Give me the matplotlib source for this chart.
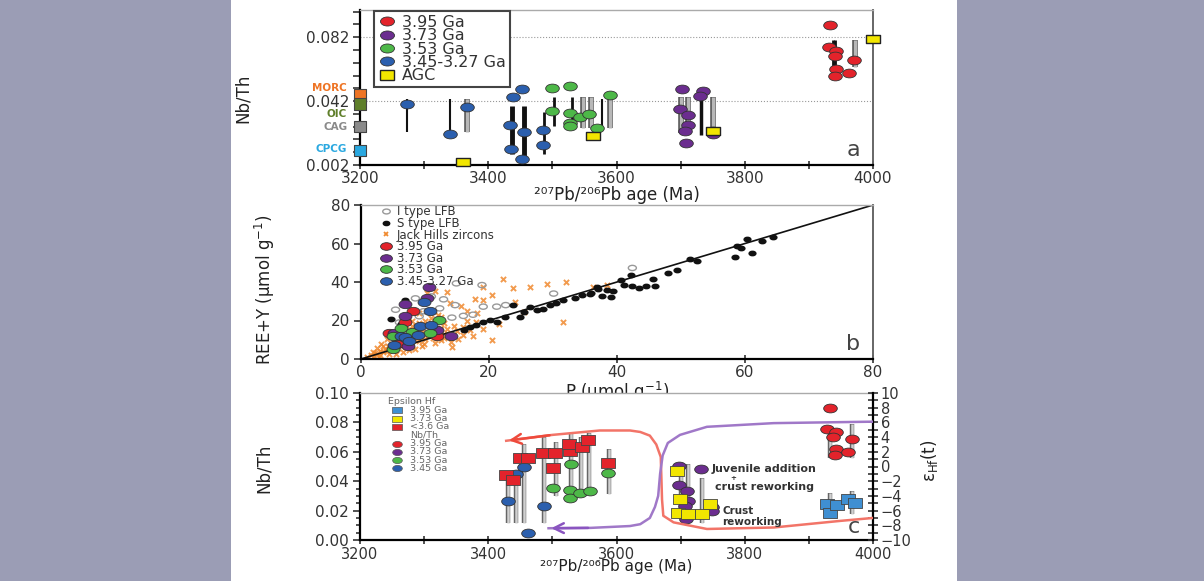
import matplotlib
matplotlib.use('Agg')
import matplotlib.pyplot as plt
from matplotlib.markers import MarkerStyle
from matplotlib.transforms import Affine2D
from matplotlib.lines import Line2D
from matplotlib.patches import Rectangle
import numpy as np

plt.rcParams['font.family'] = ['DejaVu Sans']
plt.rcParams['mathtext.default'] = 'regular'

RED = '#e3232b'
PURPLE = '#6b2d8f'
GREEN = '#4db848'
BLUE = '#2b5fae'
YELLOW = '#f2e600'
EPS_BLUE = '#3f8fd2'
ORANGE = '#f08a30'
AGE_LABEL = '\u00b2\u2070\u2077Pb/\u00b2\u2070\u2076Pb age (Ma)'

# ---------------- panel a : Nb/Th vs age ----------------
a_red_age = [3933, 3932, 3942, 3941, 3942, 3940, 3970, 3963]
a_red_nbth = [0.0895, 0.0760, 0.0733, 0.0703, 0.0620, 0.0576, 0.0680, 0.0598]
a_purple_age = [3702, 3699, 3712, 3712, 3707, 3708, 3735, 3730, 3751, 3751]
a_purple_nbth = [0.0493, 0.0372, 0.0333, 0.0270, 0.0234, 0.0155, 0.0482, 0.0451, 0.0233, 0.0215]
a_green_age = [3500, 3528, 3500, 3527, 3528, 3527, 3543, 3557, 3569, 3590]
a_green_nbth = [0.0503, 0.0516, 0.0357, 0.0347, 0.0284, 0.0264, 0.0322, 0.0339, 0.0253, 0.0458]
a_blue_age = [3273, 3340, 3367, 3438, 3453, 3434, 3436, 3455, 3453, 3485, 3485]
a_blue_nbth = [0.0401, 0.0214, 0.0384, 0.0447, 0.0495, 0.0270, 0.0118, 0.0224, 0.0055, 0.0239, 0.0145]
a_agc_age = [3361, 3564, 3751, 4000]
a_agc_nbth = [0.0039, 0.0203, 0.0233, 0.0810]

a_bar_k_age = [3273, 3340, 3437, 3455, 3487, 3502, 3530, 3577, 3732, 3937, 3941]
a_bar_k_lo = [0.0228, 0.0208, 0.0091, 0.0041, 0.0087, 0.0267, 0.0267, 0.0253, 0.0208, 0.0572, 0.0572]
a_bar_k_hi = [0.0433, 0.0433, 0.0392, 0.0392, 0.0350, 0.0444, 0.0444, 0.0433, 0.0468, 0.0801, 0.0801]
a_bar_k_lw = [1.5, 1.5, 3.5, 3.5, 2.0, 2.0, 2.0, 1.5, 2.5, 2.0, 2.0]
a_bar_g_age = [3367, 3548, 3560, 3590, 3700, 3712, 3750, 3972]
a_bar_g_lo = [0.0228, 0.0253, 0.0253, 0.0253, 0.0218, 0.0218, 0.0218, 0.0635]
a_bar_g_hi = [0.0433, 0.0444, 0.0444, 0.0433, 0.0447, 0.0447, 0.0447, 0.0801]

ref_names = ['MORC', 'OIC', 'CAG', 'CPCG']
ref_nbth = [0.0458, 0.0400, 0.0260, 0.0110]
ref_label_y = [0.0500, 0.0340, 0.0260, 0.0120]
ref_colors = ['#ee7424', '#5f7f2a', '#8a8a8a', '#2aa8e0']

# ---------------- panel b : REE+Y vs P ----------------
s_type_lfb = [(60.3, 62.2), (62.6, 61.5), (64.4, 63.6), (61.1, 55.2), (58.5, 53.1), (59.3, 57.8),
              (58.8, 58.7), (52.5, 50.8), (51.4, 51.7), (49.3, 46.0), (48.0, 44.8), (45.6, 41.3),
              (45.9, 37.8), (44.6, 38.1), (43.5, 36.9), (42.4, 38.1), (42.2, 43.8), (41.1, 38.6),
              (39.3, 35.2), (39.0, 32.1), (37.7, 32.7), (40.7, 41.0), (38.4, 35.8), (36.8, 37.5),
              (35.8, 33.9), (31.6, 30.4), (29.6, 27.8), (28.5, 26.1), (26.4, 26.9), (24.9, 21.8),
              (23.8, 27.8), (21.2, 19.2), (20.2, 20.1), (19.1, 19.2), (17.1, 16.6), (16.1, 14.9),
              (6.8, 30.4), (4.7, 20.8), (6.3, 18.3), (33.5, 31.5), (34.5, 33.0), (30.5, 29.0),
              (27.5, 25.5), (25.5, 24.5), (22.5, 22.0), (18.0, 17.5), (36.0, 34.5), (37.0, 36.5)]
i_type_lfb = [(14.9, 39.3), (18.9, 38.4), (21.2, 27.2), (19.1, 27.2), (16.0, 22.4), (12.9, 31.0),
              (12.3, 26.3), (14.7, 28.0), (9.8, 24.8), (9.1, 22.2), (7.0, 28.2), (5.4, 25.6),
              (30.1, 34.0), (42.4, 47.3), (8.5, 31.5), (11.0, 32.5), (14.2, 21.5), (6.0, 19.0),
              (22.6, 28.0), (17.5, 23.0)]
jack_hills = [(1.0, 1.2), (1.5, 2.0), (2.0, 1.5), (2.2, 3.0), (2.5, 2.5), (3.0, 4.0), (3.0, 2.2),
              (3.5, 3.5), (3.8, 5.0), (4.0, 4.0), (4.2, 6.5), (4.5, 5.0), (4.8, 7.5), (5.0, 4.5),
              (5.2, 6.0), (5.5, 9.0), (5.8, 5.5), (6.0, 8.0), (6.2, 6.5), (6.5, 10.0), (6.8, 7.0),
              (7.0, 9.5), (7.2, 11.5), (7.5, 8.5), (7.8, 12.5), (8.0, 7.5), (8.3, 10.5), (8.6, 13.5),
              (9.0, 9.5), (9.3, 11.0), (9.6, 14.0), (10.0, 10.5), (10.4, 12.5), (10.8, 15.0),
              (11.2, 11.0), (11.6, 13.5), (12.0, 12.0), (12.5, 16.0), (13.0, 13.0), (13.5, 15.5),
              (14.0, 12.5), (14.5, 17.0), (15.0, 14.5), (16.0, 16.5), (17.0, 15.0), (18.0, 19.0),
              (3.2, 8.0), (4.0, 10.5), (5.0, 12.0), (6.0, 14.0), (7.0, 15.5), (8.0, 17.0),
              (9.0, 18.5), (10.0, 20.0), (11.0, 21.5), (12.0, 23.0), (13.0, 18.5), (14.0, 9.0),
              (5.5, 2.8), (6.5, 3.5), (7.5, 4.5), (8.5, 5.0), (9.5, 6.5), (22.2, 41.4), (19.1, 37.2),
              (17.8, 31.0), (19.1, 30.7), (13.4, 35.0), (11.6, 35.3), (10.3, 34.1), (13.9, 28.9),
              (15.6, 27.3), (18.1, 23.7), (23.8, 36.7), (26.4, 37.5), (29.0, 38.8), (32.1, 40.0),
              (36.3, 37.5), (38.4, 38.3), (31.6, 19.4), (25.4, 24.6), (20.4, 9.9), (14.2, 6.4),
              (15.9, 12.7), (16.5, 25.0), (12.5, 22.0), (20.5, 33.0), (24.0, 29.5), (8.0, 19.5),
              (9.0, 24.0), (2.5, 5.5), (3.5, 6.5), (11.5, 8.5), (12.5, 10.0), (16.5, 20.0),
              (1.8, 3.8), (2.8, 1.2), (4.4, 2.5), (6.0, 11.0), (7.6, 6.0), (9.8, 8.0), (11.0, 17.0),
              (13.0, 10.8), (15.2, 10.5), (17.5, 12.0), (19.0, 15.5), (21.5, 18.0)]
b_red = [(8.1, 25.1), (6.8, 19.3), (11.9, 12.2), (4.4, 13.4), (5.7, 8.0)]
b_purple = [(10.7, 37.2), (10.3, 31.6), (6.8, 28.5), (6.8, 22.4), (11.9, 15.1), (14.0, 12.2),
            (7.3, 7.0), (5.1, 13.4)]
b_green = [(6.3, 16.1), (12.2, 20.4), (10.8, 13.4), (5.0, 11.9), (5.0, 5.1), (7.9, 13.9)]
b_blue = [(9.8, 29.5), (10.8, 25.1), (9.2, 17.0), (6.2, 11.9), (5.1, 7.2), (6.8, 11.2),
          (11.0, 17.8), (8.9, 12.6), (7.5, 9.5)]

# ---------------- panel c : Nb/Th and epsilon Hf vs age ----------------
c_eps_blue_age = [3928, 3933, 3944, 3961, 3972]
c_eps_blue = [-5.1, -6.3, -5.2, -4.4, -4.9]
c_eps_yellow_age = [3695, 3699, 3696, 3712, 3733, 3746]
c_eps_yellow = [-0.6, -4.4, -6.3, -6.4, -6.4, -5.1]
c_eps_red_age = [3428, 3439, 3449, 3462, 3486, 3504, 3501, 3528, 3526, 3546, 3556, 3587]
c_eps_red = [-1.15, -1.9, 1.1, 1.1, 1.8, 1.8, -0.16, 2.1, 3.0, 2.7, 3.6, 0.44]

c_red_age = [3933, 3929, 3943, 3937, 3942, 3940, 3967, 3961]
c_red_nbth = [0.0899, 0.0756, 0.0734, 0.0702, 0.0621, 0.0578, 0.0685, 0.0598]
c_purple_age = [3697, 3697, 3710, 3712, 3707, 3708, 3749, 3749]
c_purple_nbth = [0.0504, 0.0373, 0.0334, 0.0266, 0.0228, 0.0146, 0.0226, 0.0199]
c_green_age = [3501, 3529, 3528, 3528, 3543, 3559, 3587]
c_green_nbth = [0.0357, 0.0515, 0.0338, 0.0289, 0.0323, 0.0334, 0.0454]
c_blue_age = [3443, 3431, 3455, 3487, 3462]
c_blue_nbth = [0.0450, 0.0266, 0.0499, 0.0232, 0.0051]

c_bar_age = [3431, 3443, 3455, 3487, 3505, 3529, 3545, 3557, 3588, 3700, 3712, 3733, 3750,
             3933, 3967, 3933, 3967]
c_bar_lo = [0.0119, 0.0119, 0.0119, 0.0119, 0.0300, 0.0280, 0.0300, 0.0320, 0.0310, 0.0142,
            0.0142, 0.0119, 0.0170, 0.0560, 0.0560, 0.0165, 0.0180]
c_bar_hi = [0.0447, 0.0460, 0.0653, 0.0698, 0.0664, 0.0725, 0.0700, 0.0725, 0.0620, 0.0515,
            0.0515, 0.0425, 0.0250, 0.0775, 0.0790, 0.0320, 0.0330]

red_curve_age = [3428, 3500, 3574, 3621, 3637, 3652, 3662, 3669, 3670, 3671, 3673, 3689,
                 3741, 3845, 3949, 4000]
red_curve_eps = [3.5, 4.3, 4.9, 4.9, 4.7, 4.2, 3.0, 1.3, -1.5, -4.5, -6.7, -7.6, -8.5, -8.3,
                 -7.4, -7.0]
purple_curve_age = [3494, 3560, 3621, 3637, 3652, 3660, 3665, 3668, 3672, 3680, 3699, 3741,
                    3845, 4000]
purple_curve_eps = [-8.4, -8.35, -8.1, -7.85, -7.0, -5.5, -4.0, -1.0, 1.5, 3.2, 4.3, 5.4, 5.9, 6.1]


def emark(m):
    # markers in the source look horizontally stretched
    return MarkerStyle(m, transform=Affine2D().scale(1.55, 1.0))


def style_axes(ax):
    ax.spines['left'].set_linewidth(1.6)
    ax.spines['bottom'].set_linewidth(1.6)
    ax.spines['right'].set_color('#666666')
    ax.spines['right'].set_linewidth(1.4)
    ax.spines['top'].set_color('#aaaaaa')
    ax.spines['top'].set_linewidth(1.0)
    ax.tick_params(axis='x', which='both', direction='inout', length=6, width=1.2,
                   labelsize=11, pad=1, colors='#333333')
    ax.tick_params(axis='y', which='both', direction='out', length=5, width=1.2,
                   labelsize=11, pad=3, colors='#333333')


W, H = 1204, 581
fig = plt.figure(figsize=(W / 100, H / 100), dpi=100, facecolor='#9b9db5')
fig.patches.append(Rectangle((231 / W, 0), (957 - 231) / W, 1, transform=fig.transFigure,
                             facecolor='white', edgecolor='none', zorder=-10))


def px_axes(l, t, r, b):
    return fig.add_axes([l / W, 1 - b / H, (r - l) / W, (b - t) / H])


ms_a = 40
# ---------- a ----------
ax = px_axes(360, 10, 873, 165)
style_axes(ax)
ax.set_xlim(3200, 4000)
ax.set_ylim(0.002, 0.099)
ax.set_xticks([3200, 3400, 3600, 3800, 4000])
ax.set_xticks([3300, 3500, 3700, 3900], minor=True)
ax.set_yticks([0.002, 0.042, 0.082])
ax.set_yticklabels(['0.002', '0.042', '0.082'])
ax.set_yticks(np.arange(0.010, 0.099, 0.008), minor=True)
ax.axhline(0.042, color='#999999', lw=0.8, ls=':', zorder=1)
ax.axhline(0.082, color='#999999', lw=0.8, ls=':', zorder=1)
for x, lo, hi in zip(a_bar_g_age, a_bar_g_lo, a_bar_g_hi):
    ax.vlines(x, lo, hi, color='#555555', lw=4, zorder=2)
    ax.vlines(x, lo, hi, color='#b8b8b8', lw=2.4, zorder=2)
for x, lo, hi, w in zip(a_bar_k_age, a_bar_k_lo, a_bar_k_hi, a_bar_k_lw):
    ax.vlines(x, lo, hi, color='#111111', lw=w, zorder=2)
ax.scatter(a_blue_age, a_blue_nbth, s=ms_a, marker=emark('o'), c=BLUE, edgecolors='#333333', linewidths=0.6, zorder=4)
ax.scatter(a_green_age, a_green_nbth, s=ms_a, marker=emark('o'), c=GREEN, edgecolors='#333333', linewidths=0.6, zorder=4)
ax.scatter(a_purple_age, a_purple_nbth, s=ms_a, marker=emark('o'), c=PURPLE, edgecolors='#333333', linewidths=0.6, zorder=4)
ax.scatter(a_red_age, a_red_nbth, s=ms_a, marker=emark('o'), c=RED, edgecolors='#333333', linewidths=0.6, zorder=4)
ax.scatter(a_agc_age, a_agc_nbth, s=40, marker=emark('s'), c=YELLOW, edgecolors='#222222', linewidths=1.0,
           zorder=5, clip_on=False)
ax.scatter([3200] * 4, ref_nbth, s=70, marker='s', c=ref_colors, edgecolors='#444444', linewidths=0.8,
           zorder=6, clip_on=False)
for name, y, col in zip(ref_names, ref_label_y, ref_colors):
    ax.text(3180, y, name, color=col, fontsize=7.5, fontweight='bold', ha='right', va='center')
ax.set_ylabel('Nb/Th', fontsize=12, color='#222222')
ax.yaxis.set_label_coords(-0.21, 0.43)
ax.set_xlabel(AGE_LABEL, fontsize=12, labelpad=0, color='#222222')
ax.text(0.975, 0.03, 'a', transform=ax.transAxes, fontsize=16, ha='right', va='bottom', color='#444444')
h_a = [Line2D([], [], ls='', marker=emark('o'), ms=6.5, mfc=c, mec='#333333', mew=0.6)
       for c in (RED, PURPLE, GREEN, BLUE)]
h_a.append(Line2D([], [], ls='', marker=emark('s'), ms=6.5, mfc=YELLOW, mec='#222222', mew=1.0))
leg = ax.legend(h_a, ['3.95 Ga', '3.73 Ga', '3.53 Ga', '3.45-3.27 Ga', 'AGC'], loc='upper left',
                bbox_to_anchor=(0.027, 0.995), fontsize=11.5, labelspacing=-0.1, handlelength=1.2,
                handletextpad=0.3, borderpad=0.25, fancybox=False, framealpha=1, borderaxespad=0)
leg.get_frame().set_edgecolor('#444444')
leg.get_frame().set_linewidth(1.5)
for t in leg.get_texts():
    t.set_color('#333333')

# ---------- b ----------
bx = px_axes(361, 205, 873, 359)
style_axes(bx)
bx.set_xlim(0, 80)
bx.set_ylim(0, 80)
bx.set_xticks([0, 20, 40, 60, 80])
bx.set_yticks([0, 20, 40, 60, 80])
bx.plot([0, 80], [0, 80], color='#111111', lw=1.2, zorder=2)
jp, jr = zip(*jack_hills)
bx.scatter(jp, jr, s=14, marker='x', c=ORANGE, linewidths=1.4, alpha=0.85, zorder=1)
ip, ir = zip(*i_type_lfb)
bx.scatter(ip, ir, s=14, marker=emark('o'), facecolors='none', edgecolors='#999999', linewidths=1.0, zorder=3)
sp, sr = zip(*s_type_lfb)
bx.scatter(sp, sr, s=10, marker=emark('o'), c='#111111', zorder=3)
for pts, col in ((b_red, RED), (b_purple, PURPLE), (b_green, GREEN), (b_blue, BLUE)):
    px_, py_ = zip(*pts)
    bx.scatter(px_, py_, s=36, marker=emark('o'), c=col, edgecolors='#333333', linewidths=0.6, zorder=4)
bx.set_ylabel('REE+Y (\u03bcmol g$^{-1}$)', fontsize=12, color='#222222')
bx.yaxis.set_label_coords(-0.165, 0.45)
bx.set_xlabel('P (\u03bcmol g$^{-1}$)', fontsize=12, labelpad=0, color='#222222')
bx.text(0.975, 0.03, 'b', transform=bx.transAxes, fontsize=16, ha='right', va='bottom', color='#444444')
h_b = [Line2D([], [], ls='', marker=emark('o'), ms=3.5, mfc='none', mec='#999999', mew=1.0),
       Line2D([], [], ls='', marker=emark('o'), ms=3, mfc='#111111', mec='#111111'),
       Line2D([], [], ls='', marker='x', ms=3.5, mec=ORANGE, mew=1.3)]
h_b += [Line2D([], [], ls='', marker=emark('o'), ms=5.5, mfc=c, mec='#333333', mew=0.6)
        for c in (RED, PURPLE, GREEN, BLUE)]
leg_b = bx.legend(h_b, ['I type LFB', 'S type LFB', 'Jack Hills zircons', '3.95 Ga', '3.73 Ga',
                        '3.53 Ga', '3.45-3.27 Ga'], loc='upper left', bbox_to_anchor=(0.035, 1.005),
                  fontsize=8.5, labelspacing=-0.12, handlelength=1.0, handletextpad=0.4,
                  borderpad=0.1, frameon=False, borderaxespad=0)
for t in leg_b.get_texts():
    t.set_color('#333333')

# ---------- c ----------
cx = px_axes(360, 393, 873, 540)
style_axes(cx)
cx.spines['right'].set_visible(False)
cx.set_xlim(3200, 4000)
cx.set_ylim(0, 0.10)
cx.set_xticks([3200, 3400, 3600, 3800, 4000])
cx.set_xticks([3300, 3500, 3700, 3900], minor=True)
cx.set_yticks(np.arange(0, 0.101, 0.02))
cx.set_yticklabels(['%.2f' % v for v in np.arange(0, 0.101, 0.02)])
cx.set_yticks(np.arange(0.005, 0.1, 0.005), minor=True)
cx.tick_params(axis='y', which='minor', length=3)
cx.tick_params(axis='x', labelsize=10.5, pad=2)
for x, lo, hi in zip(c_bar_age, c_bar_lo, c_bar_hi):
    cx.vlines(x, lo, hi, color='#666666', lw=3.2, zorder=2)
    cx.vlines(x, lo, hi, color='#d0d0d0', lw=1.8, zorder=2)
cx.scatter(c_blue_age, c_blue_nbth, s=ms_a, marker=emark('o'), c=BLUE, edgecolors='#333333', linewidths=0.6, zorder=4)
cx.scatter(c_green_age, c_green_nbth, s=ms_a, marker=emark('o'), c=GREEN, edgecolors='#333333', linewidths=0.6, zorder=4)
cx.scatter(c_purple_age, c_purple_nbth, s=ms_a, marker=emark('o'), c=PURPLE, edgecolors='#333333', linewidths=0.6, zorder=4)
cx.scatter(c_red_age, c_red_nbth, s=ms_a, marker=emark('o'), c=RED, edgecolors='#333333', linewidths=0.6, zorder=4)
cx.set_ylabel('Nb/Th', fontsize=12, color='#222222')
cx.yaxis.set_label_coords(-0.17, 0.49)
cx.set_xlabel(AGE_LABEL, fontsize=11, color='#222222')
cx.xaxis.set_label_coords(0.5, -0.128)

c2 = cx.twinx()
c2.set_ylim(-10, 10)
c2.spines['right'].set_linewidth(1.6)
c2.spines['top'].set_visible(False)
c2.spines['left'].set_visible(False)
c2.spines['bottom'].set_visible(False)
c2.set_yticks(np.arange(-10, 11, 2))
c2.set_yticks(np.arange(-9, 10, 2), minor=True)
c2.tick_params(axis='y', which='both', direction='inout', length=7, width=1.2, labelsize=10.5,
               pad=2, colors='#333333')
c2.plot(red_curve_age, red_curve_eps, color='#f27468', lw=1.8, zorder=3)
c2.plot(purple_curve_age, purple_curve_eps, color='#a078c8', lw=1.8, zorder=3)
c2.annotate('', xy=(red_curve_age[0], red_curve_eps[0]), xytext=(red_curve_age[1], red_curve_eps[1]),
            arrowprops=dict(arrowstyle='->,head_length=0.7,head_width=0.35', color='#ee4a3c', lw=1.8))
c2.annotate('', xy=(purple_curve_age[0], purple_curve_eps[0]),
            xytext=(purple_curve_age[1], purple_curve_eps[1]),
            arrowprops=dict(arrowstyle='->,head_length=0.7,head_width=0.35', color='#8a55c0', lw=1.8))
c2.scatter(c_eps_red_age, c_eps_red, s=45, marker=emark('s'), c=RED, edgecolors='#444444', linewidths=0.6, zorder=5)
c2.scatter(c_eps_yellow_age, c_eps_yellow, s=45, marker=emark('s'), c=YELLOW, edgecolors='#444444', linewidths=0.6, zorder=5)
c2.scatter(c_eps_blue_age, c_eps_blue, s=45, marker=emark('s'), c=EPS_BLUE, edgecolors='#444444', linewidths=0.6, zorder=5)
c2.set_ylabel(r'$\varepsilon_{Hf}$(t)', fontsize=12, rotation=90, color='#222222')
c2.yaxis.set_label_coords(1.09, 0.54)
c2.text(0.975, 0.02, 'c', transform=c2.transAxes, fontsize=16, ha='right', va='bottom', color='#444444')

# annotations
c2.scatter([3732], [-0.3], s=ms_a, marker=emark('o'), c=PURPLE, edgecolors='#333333', linewidths=0.6, zorder=5)
c2.text(3748, -0.3, 'Juvenile addition', fontsize=8, fontweight='bold', color='#333333', va='center')
c2.text(3777, -1.5, '+', fontsize=5, fontweight='bold', color='#333333', va='center')
c2.text(3754, -2.8, 'crust reworking', fontsize=8, fontweight='bold', color='#333333', va='center')
c2.text(3765, -6.0, 'Crust', fontsize=7.5, fontweight='bold', color='#333333', va='center')
c2.text(3765, -7.5, 'reworking', fontsize=7.5, fontweight='bold', color='#333333', va='center')

# legend of panel c, written row by row
leg_rows = [('Epsilon Hf', None, None), ('3.95 Ga', 's', EPS_BLUE), ('3.73 Ga', 's', YELLOW),
            ('<3.6 Ga', 's', RED), ('Nb/Th', None, None), ('3.95 Ga', 'o', RED),
            ('3.73 Ga', 'o', PURPLE), ('3.53 Ga', 'o', GREEN), ('3.45 Ga', 'o', BLUE)]
for i, (lab, m, col) in enumerate(leg_rows):
    yy = 1 - (9.0 + 8.3 * i) / 147
    if m is None:
        xt = (388 - 360) / 513 if i == 0 else (410 - 360) / 513
        c2.text(xt, yy, lab, transform=c2.transAxes, fontsize=6.8, color='#666666', va='center')
    else:
        c2.scatter([(397 - 360) / 513], [yy], transform=c2.transAxes, s=20, marker=emark(m),
                   c=col, edgecolors='#555555', linewidths=0.5, zorder=6)
        c2.text((410 - 360) / 513, yy, lab, transform=c2.transAxes, fontsize=6.8, color='#666666',
                va='center')

fig.savefig('out.png', dpi=100, facecolor=fig.get_facecolor())
